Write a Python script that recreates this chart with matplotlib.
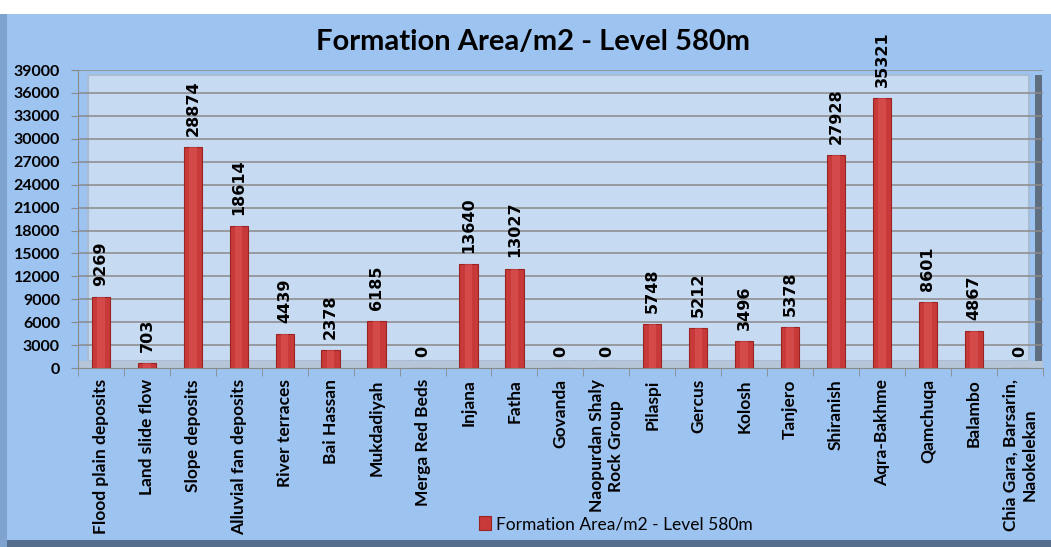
import numpy as np
import matplotlib
matplotlib.use("Agg")
import matplotlib.pyplot as plt
from matplotlib.patches import Rectangle

formations = [
    "Flood plain deposits", "Land slide flow", "Slope deposits",
    "Alluvial fan deposits", "River terraces", "Bai Hassan", "Mukdadiyah",
    "Merga Red Beds", "Injana", "Fatha", "Govanda",
    "Naopurdan Shaly\nRock Group", "Pilaspi", "Gercus", "Kolosh", "Tanjero",
    "Shiranish", "Aqra-Bakhme", "Qamchuqa", "Balambo",
    "Chia Gara, Barsarin,\nNaokelekan",
]
areas = [9269, 703, 28874, 18614, 4439, 2378, 6185, 0, 13640, 13027, 0, 0,
         5748, 5212, 3496, 5378, 27928, 35321, 8601, 4867, 0]
y_ticks = list(range(0, 39001, 3000))

series_name = "Formation Area/m2 - Level 580m"

plt.rcParams['font.family'] = ['Lato', 'DejaVu Sans']

fig = plt.figure(figsize=(10.51, 5.47), dpi=100)
fig.patch.set_facecolor('#9DC3F1')

# outer chart frame
fig.patches.append(Rectangle((0.0, 0.0), 1.0, 0.012, transform=fig.transFigure,
                             facecolor='#566E8E', edgecolor='none', zorder=0))
fig.patches.append(Rectangle((0.0, 0.0), 0.007, 1.0, transform=fig.transFigure,
                             facecolor='#7FA3CF', edgecolor='none', zorder=0))
fig.patches.append(Rectangle((0.0, 0.975), 1.0, 0.025, transform=fig.transFigure,
                             facecolor='white', edgecolor='none', zorder=0))

ax = fig.add_axes([0.0742, 0.327, 0.918, 0.545])
ax.set_facecolor('#9DC3F1')

x = np.arange(len(formations))
n = len(formations)
ax.set_xlim(-0.5, n - 0.5)
ax.set_ylim(0, 39000)

# back wall of the 3D chart
ax.add_patch(Rectangle((-0.28, 900), n - 0.52, 37400, facecolor='#C6DBF2',
                       edgecolor='#A8BCD4', linewidth=1.5, zorder=0))
ax.add_patch(Rectangle((-0.5, 0), n, 900, facecolor='#B6C6D8',
                       edgecolor='none', zorder=0.5))
ax.add_patch(Rectangle((n - 0.68, 900), 0.16, 37400, facecolor='#5E6E80',
                       edgecolor='none', zorder=0.5))

for t in y_ticks[1:]:
    ax.axhline(t, color='#8A8A8A', linewidth=1.1, zorder=1)

bars = ax.bar(x, areas, width=0.4, color='#C83A3A', edgecolor='#9A2424',
              linewidth=0.8, zorder=3)
ax.bar(x, areas, width=0.16, color='#E05858', edgecolor='none', alpha=0.5,
       zorder=4)

for xi, v in zip(x, areas):
    ax.annotate(str(v), (xi, v), xytext=(0, 8), textcoords='offset points',
                rotation=90, ha='center', va='bottom', fontsize=11.5,
                fontweight='bold', family='DejaVu Sans', zorder=5)

ax.set_yticks(y_ticks)
ax.set_yticklabels([str(t) for t in y_ticks], fontsize=11.5, fontweight='bold')
ax.set_xticks(np.arange(n + 1) - 0.5, minor=True)
ax.set_xticks(x)
ax.set_xticklabels(formations, rotation=90, fontsize=12.5, fontweight='bold',
                   va='top', ha='center', multialignment='center')
ax.tick_params(axis='x', which='major', length=0, pad=8)
ax.tick_params(axis='x', which='minor', length=6, color='#8A8A8A')
ax.tick_params(axis='y', length=5, color='#8A8A8A', pad=8)

for s in ['top', 'right']:
    ax.spines[s].set_visible(False)
ax.spines['left'].set_color('#8A8A8A')
ax.spines['bottom'].set_color('#8A8A8A')

fig.text(0.507, 0.923, series_name, ha='center', va='center', fontsize=21,
         fontweight='bold')

leg = fig.legend([bars], [series_name], loc='center', bbox_to_anchor=(0.586, 0.042),
                 frameon=False, fontsize=12.5, handlelength=0.7, handleheight=0.9,
                 handletextpad=0.3)

fig.savefig('out.png', dpi=100, facecolor=fig.get_facecolor())
